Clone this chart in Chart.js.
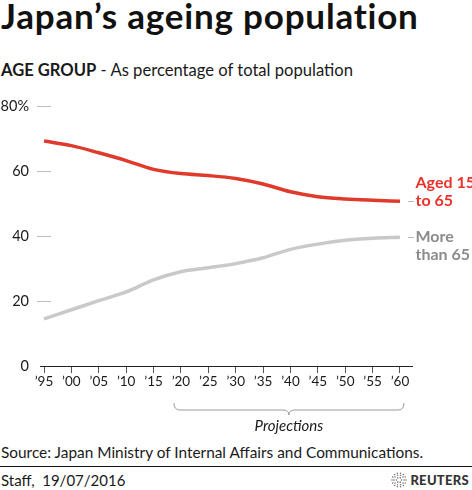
<!DOCTYPE html>
<html>
<head>
<meta charset="utf-8">
<script src="https://cdn.jsdelivr.net/npm/chart.js@4"></script>
<style>
  html, body { margin: 0; padding: 0; background: #fff; }
  body { width: 472px; height: 490px; position: relative; overflow: hidden; font-family: Lato, "Noto Sans", sans-serif; color: #1a1a1a; }
  .abs { position: absolute; white-space: nowrap; }
  #title { left: 1px; top: -6px; font-size: 35px; font-weight: 700; letter-spacing: 0.8px; color: #111; }
  #subtitle { left: 1px; top: 60px; font-size: 16.6px; }
  #subtitle b { font-weight: 700; }
  #chartBox { position: absolute; left: 0; top: 90px; width: 472px; height: 350px; }
  #source { left: 1px; top: 443px; font-size: 15.4px; }
  #rule { position: absolute; left: 0; top: 466px; width: 472px; height: 0; border-top: 1.5px solid #111; }
  #staff { left: 1px; top: 471px; font-size: 15px; }
  #logo { right: 3px; top: 472px; font-size: 13px; font-weight: 900; letter-spacing: 0.3px; color: #333; }
  #logo canvas { vertical-align: -3px; margin-right: 3px; }
</style>
</head>
<body>
<div id="title" class="abs">Japan’s ageing population</div>
<div id="subtitle" class="abs"><b>AGE GROUP</b> - As percentage of total population</div>
<div id="chartBox"><canvas id="popChart" width="472" height="350"></canvas></div>
<div id="source" class="abs">Source: Japan Ministry of Internal Affairs and Communications.</div>
<div id="rule"></div>
<div id="staff" class="abs">Staff,&nbsp; 19/07/2016</div>
<div id="logo" class="abs"><canvas id="dots" width="16" height="16"></canvas>REUTERS</div>

<script>
// ========================
// DATA
// ========================
const years = [1995, 2000, 2005, 2010, 2015, 2020, 2025, 2030, 2035, 2040, 2045, 2050, 2055, 2060];
const aged15to65 = [69.2, 67.8, 65.6, 63.2, 60.5, 59.2, 58.6, 57.7, 56.0, 53.6, 52.1, 51.4, 51.0, 50.7];
const over65 = [14.5, 17.3, 20.1, 22.8, 26.5, 29.0, 30.2, 31.5, 33.3, 35.9, 37.5, 38.7, 39.3, 39.6];
const yTicks = [0, 20, 40, 60, 80];
const projectionStart = 2020;
const projectionEnd = 2060;

const RED = "#df3a2c";
const RED_TEXT = "#e8322a";
const GREY = "#c9c9c9";
const GREY_TEXT = "#8b8b8b";
const FONT = "Lato, 'Noto Sans', sans-serif";

// ========================
// PLUGINS
// ========================
// short grey marks beside each y value
const yMarks = {
  id: "yMarks",
  afterDraw(chart) {
    const { ctx, scales: { y } } = chart;
    ctx.save();
    ctx.strokeStyle = "#bdbdbd";
    ctx.lineWidth = 1;
    yTicks.forEach(v => {
      if (v === 0) return;
      const py = Math.round(y.getPixelForValue(v)) + 0.5;
      ctx.beginPath();
      ctx.moveTo(37, py);
      ctx.lineTo(51, py);
      ctx.stroke();
    });
    ctx.restore();
  }
};

// labels at the end of each line
const endLabels = {
  id: "endLabels",
  afterDatasetsDraw(chart) {
    const { ctx, scales: { x, y } } = chart;
    const last = years.length - 1;
    const px = x.getPixelForValue(years[last]);
    const setups = [
      { val: aged15to65[last], lines: ["Aged 15", "to 65"], color: RED_TEXT, shift: -18 },
      { val: over65[last], lines: ["More", "than 65"], color: GREY_TEXT, shift: 0 }
    ];
    ctx.save();
    setups.forEach(s => {
      const py = y.getPixelForValue(s.val);
      ctx.strokeStyle = "#bdbdbd";
      ctx.lineWidth = 1;
      ctx.beginPath();
      ctx.moveTo(px + 8, Math.round(py) + 0.5);
      ctx.lineTo(px + 14, Math.round(py) + 0.5);
      ctx.stroke();
      ctx.fillStyle = s.color;
      ctx.font = "bold 16px " + FONT;
      ctx.textBaseline = "middle";
      ctx.textAlign = "left";
      s.lines.forEach((t, i) => ctx.fillText(t, px + 15.5, py + s.shift + i * 18));
    });
    ctx.restore();
  }
};

// brace under projection years
const projectionBrace = {
  id: "projectionBrace",
  afterDraw(chart) {
    const { ctx, scales: { x } } = chart;
    const x0 = x.getPixelForValue(projectionStart) - 7;
    const x1 = x.getPixelForValue(projectionEnd) + 4;
    const mid = (x0 + x1) / 2;
    const top = 313, base = 320, tip = 325;
    ctx.save();
    ctx.strokeStyle = "#9a9a9a";
    ctx.lineWidth = 1;
    ctx.beginPath();
    ctx.moveTo(x0, top);
    ctx.quadraticCurveTo(x0, base, x0 + 6, base);
    ctx.lineTo(mid - 6, base);
    ctx.quadraticCurveTo(mid, base, mid, tip);
    ctx.quadraticCurveTo(mid, base, mid + 6, base);
    ctx.lineTo(x1 - 6, base);
    ctx.quadraticCurveTo(x1, base, x1, top);
    ctx.stroke();
    ctx.fillStyle = "#1a1a1a";
    ctx.font = "italic 15px " + FONT;
    ctx.textAlign = "center";
    ctx.textBaseline = "middle";
    ctx.fillText("Projections", mid, 336);
    ctx.restore();
  }
};

// ========================
// CHART RENDER
// ========================
const ctx = document.getElementById("popChart").getContext("2d");
const pxPerYear = (400 - 44) / 65;

new Chart(ctx, {
  type: "line",
  data: {
    labels: years,
    datasets: [
      {
        label: "Aged 15 to 65",
        data: years.map((yr, i) => ({ x: yr, y: aged15to65[i] })),
        borderColor: RED,
        borderWidth: 3.5,
        pointRadius: 0,
        cubicInterpolationMode: "monotone",
        fill: false
      },
      {
        label: "More than 65",
        data: years.map((yr, i) => ({ x: yr, y: over65[i] })),
        borderColor: GREY,
        borderWidth: 3.5,
        pointRadius: 0,
        cubicInterpolationMode: "monotone",
        fill: false
      }
    ]
  },
  options: {
    responsive: false,
    animation: false,
    layout: { padding: { top: 16, right: 60, left: 0, bottom: 0 } },
    plugins: {
      legend: { display: false },
      tooltip: { enabled: false }
    },
    scales: {
      x: {
        type: "linear",
        min: 1995 - 4 / pxPerYear,
        max: 2060 + 12 / pxPerYear,
        afterBuildTicks: s => { s.ticks = years.map(v => ({ value: v })); },
        afterFit: s => { s.height = 74; s.paddingLeft = 0; s.paddingRight = 0; },
        grid: { drawOnChartArea: false, drawTicks: true, tickLength: 7, color: "#555" },
        border: { display: true, color: "#222", width: 1 },
        ticks: {
          autoSkip: false,
          maxRotation: 0,
          padding: 1,
          color: "#1a1a1a",
          font: { family: FONT, size: 13.5 },
          callback: v => "’" + String(v).slice(2)
        }
      },
      y: {
        min: 0,
        max: 80,
        afterBuildTicks: s => { s.ticks = yTicks.map(v => ({ value: v })); },
        afterFit: s => { s.width = 40; s.paddingTop = 0; s.paddingBottom = 0; },
        grid: { display: false, drawTicks: false },
        border: { display: false },
        ticks: {
          padding: 11,
          color: "#1a1a1a",
          font: { family: FONT, size: 14.5 },
          callback: v => v === 80 ? "80%" : String(v)
        }
      }
    }
  },
  plugins: [yMarks, endLabels, projectionBrace]
});

// ========================
// LOGO DOTS
// ========================
const d = document.getElementById("dots").getContext("2d");
d.fillStyle = "#777";
[2.5, 5, 7].forEach((r, ring) => {
  const n = [6, 10, 14][ring];
  for (let k = 0; k < n; k++) {
    const a = (k / n) * Math.PI * 2;
    d.beginPath();
    d.arc(8 + r * Math.cos(a), 8 + r * Math.sin(a), 0.8, 0, Math.PI * 2);
    d.fill();
  }
});
</script>
</body>
</html>
